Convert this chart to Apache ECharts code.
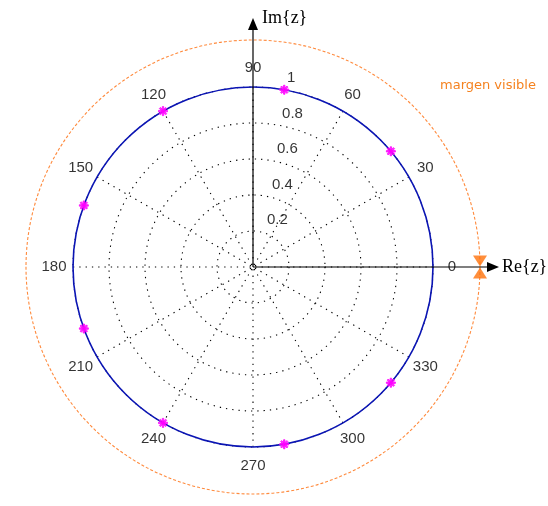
<!DOCTYPE html>
<html><head><meta charset="utf-8">
<script src="https://cdn.jsdelivr.net/npm/echarts@6/dist/echarts.min.js"></script>
<style>html,body{margin:0;padding:0;background:#fff}#c{width:548px;height:506px}</style>
</head><body><div id="c"></div>
<script>
// ---- data ----
const angleTicks = [0, 30, 60, 90, 120, 150, 180, 210, 240, 270, 300, 330];
const angleTickLabels = ['0', '30', '60', '90', '120', '150', '180', '210', '240', '270', '300', '330'];
const radiusTicks = [0.2, 0.4, 0.6, 0.8, 1];
const radiusTickLabels = ['0.2', '0.4', '0.6', '0.8', '1'];
const pointAngles = [40, 80, 120, 160, 200, 240, 280, 320];
const pointRadii = [1, 1, 1, 1, 1, 1, 1, 1];
const marginAngle = 0;
const marginText = 'margen visible';
const reLabel = 'Re{z}';
const imLabel = 'Im{z}';

// ---- layout constants ----
const CX = 253, CY = 267, R_UNIT = 180, R_MARGIN = 227, R_OUTER = 270;
const labelR = 199 / R_OUTER;
const radialLabelAngle = 82;

const chart = echarts.init(document.getElementById('c'), null, {renderer: 'canvas'});
const dotted = {color: '#000', type: [1.3, 5], width: 1.1};
const hiddenAxis = {axisLine: {show: false}, axisTick: {show: false}, axisLabel: {show: false}, splitLine: {show: false}};

function axisSeries(angle, endR, rotate, labelText, labelOpts) {
  return {
    type: 'line', coordinateSystem: 'polar', polarIndex: 2, z: 5, silent: true, clip: false,
    lineStyle: {color: '#000', width: 1.2},
    symbol: 'triangle', symbolSize: [10, 12], showSymbol: true, showAllSymbol: true,
    itemStyle: {color: '#000'},
    data: [
      {value: [0, angle], symbol: 'none', label: {show: false}},
      {value: [endR, angle], symbol: 'triangle', symbolSize: [10, 12], symbolRotate: rotate,
       label: Object.assign({show: true, formatter: () => labelText,
              fontFamily: 'Liberation Serif', fontSize: 18, color: '#000'}, labelOpts)}
    ]
  };
}

const option = {
  animation: false,
  backgroundColor: '#fff',
  title: {
    text: marginText, left: 435, top: 74,
    textStyle: {fontFamily: 'DejaVu Sans', fontSize: 13, fontWeight: 'normal', color: '#f5821f'}
  },
  polar: [
    {center: [CX, CY], radius: R_UNIT},
    {center: [CX, CY], radius: R_MARGIN},
    {center: [CX, CY], radius: R_OUTER}
  ],
  angleAxis: [
    {polarIndex: 0, type: 'value', min: 0, max: 360, interval: 30, startAngle: 0, clockwise: false, z: 3,
     axisLine: {show: true, lineStyle: {color: '#0a14b4', width: 1.6}},
     axisTick: {show: false}, axisLabel: {show: false},
     splitLine: {show: true, lineStyle: dotted}},
    {polarIndex: 1, type: 'value', min: 0, max: 360, startAngle: 0, clockwise: false, z: 1,
     axisLine: {show: true, lineStyle: {color: '#ff8a3d', width: 1.1, type: [3, 2]}},
     axisTick: {show: false}, axisLabel: {show: false}, splitLine: {show: false}},
    Object.assign({polarIndex: 2, type: 'value', min: 0, max: 360, startAngle: 0, clockwise: false}, hiddenAxis)
  ],
  radiusAxis: [
    {polarIndex: 0, type: 'value', min: 0, max: 1, interval: 0.2, z: 1,
     axisLine: {show: false}, axisTick: {show: false}, axisLabel: {show: false},
     splitLine: {show: true, lineStyle: dotted}},
    Object.assign({polarIndex: 1, type: 'value', min: 0, max: 1}, hiddenAxis),
    Object.assign({polarIndex: 2, type: 'value', min: 0, max: 1}, hiddenAxis)
  ],
  series: [
    axisSeries(0, (493 - CX) / R_OUTER, -90, reLabel, {position: 'right', distance: 3}),
    axisSeries(90, (CY - 24) / R_OUTER, 0, imLabel, {position: 'right', distance: 4, offset: [0, -6]}),
    // points on unit circle
    {type: 'scatter', coordinateSystem: 'polar', polarIndex: 0, z: 6, silent: true,
     symbol: 'path://M-0.8,-5H0.8V5H-0.8Z M-5,-0.8H5V0.8H-5Z M-4.1,-2.9L-2.9,-4.1L4.1,2.9L2.9,4.1Z M2.9,-4.1L4.1,-2.9L-2.9,4.1L-4.1,2.9Z',
     symbolSize: 9,
     itemStyle: {color: '#ff00ff', borderColor: '#ff00ff', borderWidth: 1},
     data: pointAngles.map((a, i) => [pointRadii[i], a])},
    // margin markers
    {type: 'scatter', coordinateSystem: 'polar', polarIndex: 1, z: 6, silent: true,
     symbol: 'triangle', symbolSize: [14, 11],
     itemStyle: {color: '#ff720a'},
     data: [
       {value: [1, marginAngle], symbolRotate: 180, symbolOffset: [0, -6]},
       {value: [1, marginAngle], symbolOffset: [0, 6]}
     ]},
    // angle labels
    {type: 'scatter', coordinateSystem: 'polar', polarIndex: 2, z: 4, silent: true,
     symbolSize: 0,
     label: {show: true, position: 'inside', formatter: p => angleTickLabels[p.dataIndex],
             fontFamily: 'Liberation Sans', fontSize: 15, color: '#000'},
     data: angleTicks.map(a => [labelR, a])},
    // radius labels
    {type: 'scatter', coordinateSystem: 'polar', polarIndex: 0, z: 4, silent: true,
     symbolSize: 0,
     label: {show: true, position: 'right', distance: 9, offset: [0, -11],
             formatter: p => radiusTickLabels[p.dataIndex],
             fontFamily: 'Liberation Sans', fontSize: 15, color: '#000'},
     data: radiusTicks.map(r => [r, radialLabelAngle])}
  ]
};
chart.setOption(option);
</script>
</body></html>
